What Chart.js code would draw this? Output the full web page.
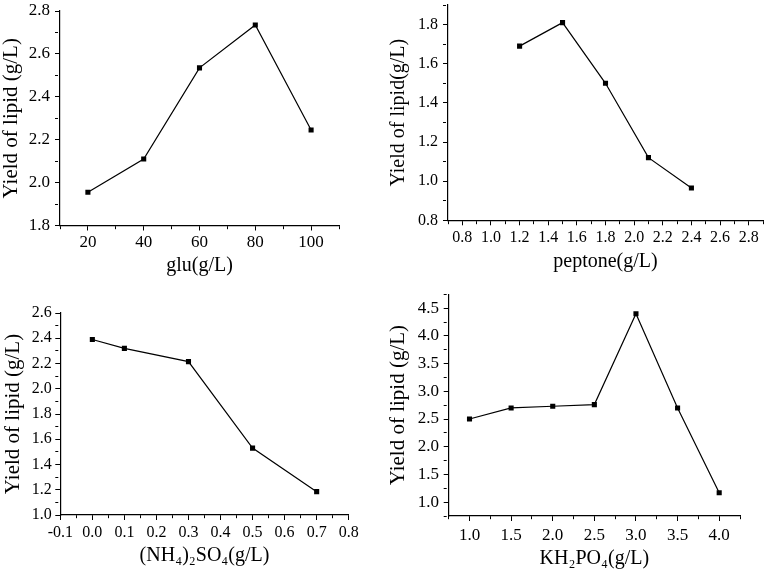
<!DOCTYPE html>
<html>
<head>
<meta charset="utf-8">
<script src="https://cdn.jsdelivr.net/npm/chart.js@4.4.1/dist/chart.umd.min.js"></script>
<style>
body { margin: 0; background: #fff; }
#wrap { position: relative; width: 767px; height: 576px; }
canvas { position: absolute; }
</style>
</head>
<body>
<div id="wrap">
  <canvas id="c1" width="384" height="288" style="left:0;top:0"></canvas>
  <canvas id="c2" width="383" height="288" style="left:384px;top:0"></canvas>
  <canvas id="c3" width="384" height="288" style="left:0;top:288px"></canvas>
  <canvas id="c4" width="383" height="288" style="left:384px;top:288px"></canvas>
</div>
<script>
// values
const gluX = [20, 40, 60, 80, 100];
const gluY = [1.955, 2.11, 2.535, 2.735, 2.245];

const peptoneX = [1.2, 1.5, 1.8, 2.1, 2.4];
const peptoneY = [1.69, 1.81, 1.50, 1.12, 0.965];

const nh4X = [0.0, 0.1, 0.3, 0.5, 0.7];
const nh4Y = [2.39, 2.32, 2.215, 1.53, 1.185];

const kh2po4X = [1.0, 1.5, 2.0, 2.5, 3.0, 3.5, 4.0];
const kh2po4Y = [2.50, 2.70, 2.73, 2.76, 4.40, 2.70, 1.17];

Chart.defaults.font.family = "'Liberation Serif', 'Times New Roman', serif";
Chart.defaults.color = '#000';

function isMajor(v, step) {
  const r = v / step;
  return Math.abs(r - Math.round(r)) < 1e-6;
}

function makeChart(id, xs, ys, c) {
  // outward ticks: full length on labelled values, dashed down to 3px in between
  const axis = (min, max, step, major, dec, pad, size) => ({
    type: 'linear',
    min: min,
    max: max,
    grid: {
      display: true,
      drawOnChartArea: false,
      drawTicks: true,
      tickLength: 5,
      tickColor: '#000',
      tickWidth: 1,
      tickBorderDash: ctx => isMajor(ctx.tick.value, major) ? [] : [3, 50]
    },
    border: { color: '#000', width: 1.2 },
    ticks: {
      stepSize: step,
      autoSkip: false,
      maxRotation: 0,
      padding: pad,
      font: { size: size },
      callback: v => isMajor(v, major) ? v.toFixed(dec) : ''
    }
  });
  const noPad = s => { s.paddingTop = 0; s.paddingBottom = 0; s.paddingLeft = 0; s.paddingRight = 0; };

  const x = axis(c.xMin, c.xMax, c.xStep, c.xMajor, c.xDec, c.xPad, c.tickSize);
  x.title = { display: true, text: c.xTitle, font: { size: c.xTitleSize, lineHeight: 1 },
              padding: { top: 0, bottom: c.xTitlePad } };
  x.afterFit = s => { s.height = c.xHeight; noPad(s); };

  const y = axis(c.yMin, c.yMax, c.yStep, c.yMajor, 1, c.yPad, c.tickSize);
  y.title = { display: true, text: 'Yield of lipid' + c.ySep + '(g/L)',
              font: { size: c.yTitleSize, lineHeight: 1 },
              padding: { top: c.yTitlePad, bottom: 0 } };
  y.afterFit = s => { s.width = c.yWidth; noPad(s); };

  return new Chart(document.getElementById(id), {
    type: 'scatter',
    data: {
      datasets: [{
        data: xs.map((v, i) => ({ x: v, y: ys[i] })),
        showLine: true,
        borderColor: '#000',
        borderWidth: 1.2,
        pointStyle: 'rect',
        pointRadius: 3.6,
        pointBackgroundColor: '#000',
        pointBorderWidth: 0
      }]
    },
    options: {
      responsive: false,
      animation: false,
      layout: { padding: { left: 0, top: c.top, right: c.right, bottom: 0 } },
      scales: { x: x, y: y },
      plugins: {
        legend: { display: false },
        tooltip: { enabled: false }
      }
    }
  });
}

makeChart('c1', gluX, gluY, {
  xMin: 10, xMax: 110, xStep: 10, xMajor: 20, xDec: 0,
  yMin: 1.8, yMax: 2.8, yStep: 0.1, yMajor: 0.2,
  xTitle: 'glu(g/L)', ySep: ' ',
  tickSize: 17, xTitleSize: 20, yTitleSize: 21,
  xPad: 2, yPad: 5, xTitlePad: 12, yTitlePad: 0.5,
  top: 11, right: 45, yWidth: 60, xHeight: 62.5
});

makeChart('c2', peptoneX, peptoneY, {
  xMin: 0.7, xMax: 2.9, xStep: 0.1, xMajor: 0.2, xDec: 1,
  yMin: 0.8, yMax: 1.9, yStep: 0.1, yMajor: 0.2,
  xTitle: 'peptone(g/L)', ySep: '',
  tickSize: 16, xTitleSize: 20, yTitleSize: 20,
  xPad: 2.5, yPad: 5, xTitlePad: 16, yTitlePad: 5,
  top: 5, right: 2, yWidth: 64, xHeight: 67.7
});

makeChart('c3', nh4X, nh4Y, {
  xMin: -0.1, xMax: 0.8, xStep: 0.05, xMajor: 0.1, xDec: 1,
  yMin: 1.0, yMax: 2.6, yStep: 0.1, yMajor: 0.2,
  xTitle: '(NH₄)₂SO₄(g/L)', ySep: ' ',
  tickSize: 16, xTitleSize: 20, yTitleSize: 21,
  xPad: 3.5, yPad: 3.5, xTitlePad: 10, yTitlePad: 2.8,
  top: 25, right: 35.3, yWidth: 60.3, xHeight: 61
});

makeChart('c4', kh2po4X, kh2po4Y, {
  xMin: 0.75, xMax: 4.25, xStep: 0.25, xMajor: 0.5, xDec: 1,
  yMin: 0.75, yMax: 4.75, yStep: 0.25, yMajor: 0.5,
  xTitle: 'KH₂PO₄(g/L)', ySep: ' ',
  tickSize: 17, xTitleSize: 20, yTitleSize: 21,
  xPad: 4.8, yPad: 4.7, xTitlePad: 7, yTitlePad: 3.5,
  top: 6.3, right: 27, yWidth: 64.7, xHeight: 60
});
</script>
</body>
</html>
